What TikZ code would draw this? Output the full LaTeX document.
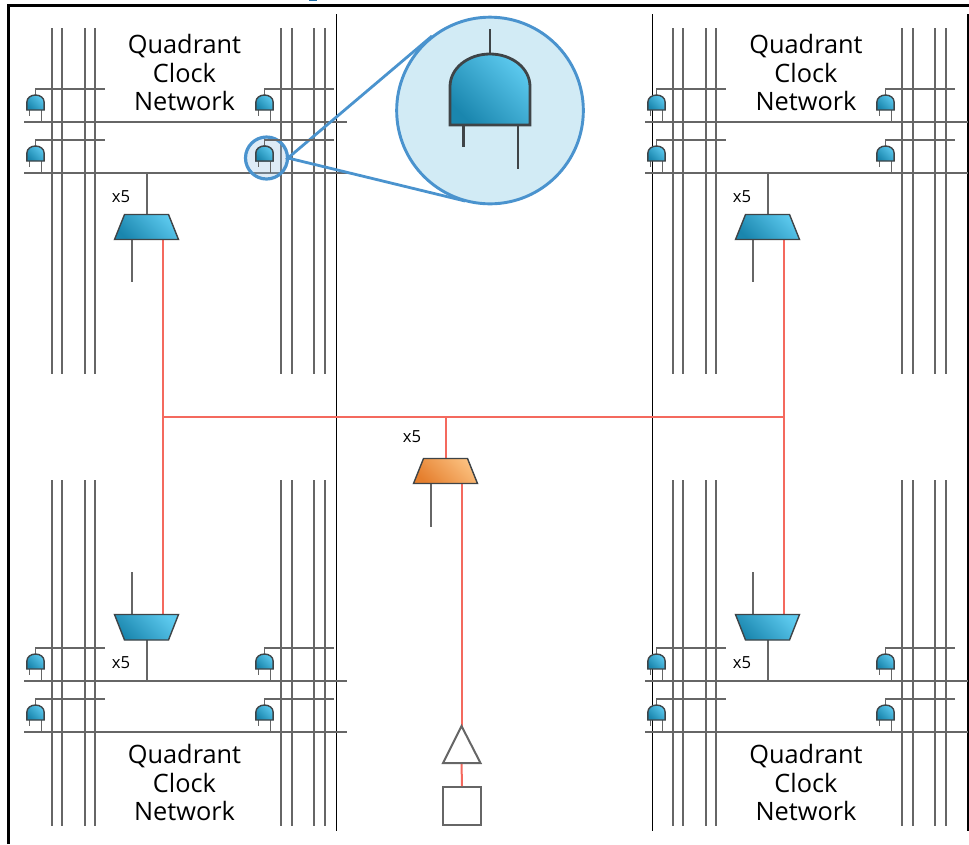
\documentclass[tikz,border=0pt]{standalone}
\usepackage{fontspec}
\setmainfont{Open Sans}
\definecolor{wire}{HTML}{666666}
\definecolor{redwire}{HTML}{F4695E}
\definecolor{edgegrey}{HTML}{3F4447}
\definecolor{tealA}{HTML}{1A86AE}
\definecolor{tealB}{HTML}{5CC9EE}
\definecolor{orangeA}{HTML}{E57F2E}
\definecolor{orangeB}{HTML}{FBC07F}
\definecolor{zoomfill}{HTML}{D2EBF5}
\definecolor{zoomline}{HTML}{4A93CE}
\definecolor{titleblue}{HTML}{1F6FA8}
\tikzset{
  wireline/.style={draw=wire,line width=1.5pt},
  gateleg/.style={draw=wire,line width=1.2pt},
  redline/.style={draw=redwire,line width=1.5pt},
  thinblack/.style={draw=black,line width=0.85pt},
  framing/.style={draw=black,line width=2.3pt},
  tealshade/.style={draw=edgegrey,line width=1.05pt,top color=tealB,bottom color=tealA,shading angle=-45},
  orangeshade/.style={draw=edgegrey,line width=1.05pt,top color=orangeB,bottom color=orangeA,shading angle=-45},
  qlabel/.style={font=\fontsize{19}{21.4}\selectfont,align=center,text=black,inner sep=0pt,anchor=center},
  xlabel/.style={font=\fontsize{12.5}{14}\selectfont,text=black,inner sep=0pt,anchor=center},
  blockbox/.style={draw=wire,line width=1.5pt,inner sep=0pt,minimum size=28.5pt,fill=white},
}
% #1 name, #2 centre x, #3 top y, #4 half width, #5 height, #6 style
\newcommand{\gatebody}[6]{%
  \path[#6] ({#2-#4},{#3+#5}) -- ({#2-#4},{#3+0.46*#5})
    .. controls ({#2-#4},{#3+0.2*#5}) and ({#2-0.55*#4},{#3}) .. ({#2},{#3})
    .. controls ({#2+0.55*#4},{#3}) and ({#2+#4},{#3+0.2*#5}) .. ({#2+#4},{#3+0.46*#5})
    -- ({#2+#4},{#3+#5}) -- cycle;
  \coordinate (#1-top) at (#2,#3);
}
% small gate with its wires: #1 centre x, #2 bus y
\newcommand{\smallgate}[2]{%
  \pgfmathsetmacro{\gt}{#2-27}%
  \coordinate (stemend) at ({#1+69},{#2-33});
  \coordinate (stemturn) at (#1,{#2-33});
  \coordinate (lega) at ({#1-6},{#2-12});
  \coordinate (legat) at ({#1-6},{#2-6});
  \coordinate (legb) at ({#1+6},{#2-12});
  \coordinate (legbt) at ({#1+6},{#2});
  \draw[gateleg] (stemend) -- (stemturn) -- ++(0,6);
  \draw[gateleg] (lega) -- (legat);
  \draw[gateleg] (legb) -- (legbt);
  \gatebody{smallgate}{#1}{\gt}{8.6}{15}{tealshade}
}
% #1 name, #2 centre x, #3 top y, #4 bottom y, #5 top half width, #6 bottom half width, #7 style
\newcommand{\muxbody}[7]{%
  \path[#7] ({#2-#5},#3) -- ({#2+#5},#3) -- ({#2+#6},#4) -- ({#2-#6},#4) -- cycle;
  \coordinate (#1-top) at (#2,#3);
  \coordinate (#1-bot) at (#2,#4);
}
\begin{document}
\begin{tikzpicture}[x=0.75pt,y=-0.75pt]
\useasboundingbox (0,0) rectangle (969,844);
% frame
\coordinate (fa) at (8.5,844);
\coordinate (fb) at (8.5,5.5);
\coordinate (fc) at (969,5.5);
\draw[framing] (fa) -- (fb) -- (fc);
\fill[titleblue] (309,0) rectangle (317,1.2);
% quadrant separators
\foreach \x/\n in {336.5/a,652.5/b,968/c}{
  \coordinate (sep\n t) at (\x,14);
  \coordinate (sep\n b) at (\x,831);
  \draw[thinblack] (sep\n t) -- (sep\n b);
}
% quadrant wiring
\foreach \dx in {0,621}{
  \foreach \dy in {0,559}{
    \pgfmathsetmacro{\yoff}{\dy==0 ? 0 : 452}
    \foreach \x in {51.5,62,84.5,95,280.5,291.5,313.5,324.5}{
      \coordinate (vt) at ({\x+\dx},{28+\yoff});
      \coordinate (vb) at ({\x+\dx},{374+\yoff});
      \draw[wireline] (vt) -- (vb);
    }
    \foreach \y in {122,173}{
      \coordinate (hl) at ({24+\dx},{\y+\dy});
      \coordinate (hr) at ({347+\dx},{\y+\dy});
      \draw[wireline] (hl) -- (hr);
      \foreach \x in {35.5,264.5}{
        \pgfmathsetmacro{\gx}{\x+\dx}
        \pgfmathsetmacro{\gy}{\y+\dy}
        \smallgate{\gx}{\gy}
      }
    }
  }
}
% red network
\coordinate (redL) at (162.5,417);
\coordinate (redC) at (445.5,417);
\coordinate (redR) at (783.5,417);
\draw[redline] (redL) -- (redC) -- (redR);
% muxes
\foreach \dx/\n in {0/l,621/r}{
  \pgfmathsetmacro{\mx}{146.5+\dx}
  \coordinate (busT\n) at (\mx,173);
  \coordinate (selT\n a) at ({\mx-15},239.5);
  \coordinate (selT\n b) at ({\mx-15},282);
  \coordinate (redT\n) at ({\mx+16},239.5);
  \coordinate (redM\n) at ({\mx+16},417);
  \coordinate (muxtop\n) at (\mx,214.5);
  \draw[wireline] (busT\n) -- (muxtop\n);
  \draw[wireline] (selT\n a) -- (selT\n b);
  \draw[redline] (redT\n) -- (redM\n);
  \muxbody{muxt\n}{\mx}{214.5}{239.5}{22}{32}{tealshade}
  \coordinate (busB\n) at (\mx,681);
  \coordinate (muxbot\n) at (\mx,640);
  \coordinate (selB\n a) at ({\mx-15},614.5);
  \coordinate (selB\n b) at ({\mx-15},572);
  \coordinate (redB\n) at ({\mx+16},614.5);
  \draw[wireline] (busB\n) -- (muxbot\n);
  \draw[wireline] (selB\n a) -- (selB\n b);
  \draw[redline] (redB\n) -- (redM\n);
  \muxbody{muxb\n}{\mx}{614.5}{640}{32}{22}{tealshade}
  \node[xlabel] (xt\n) at ({121+\dx},197) {x5};
  \node[xlabel] (xb\n) at ({121+\dx},663) {x5};
}
% centre mux
\coordinate (selCa) at (431,483.5);
\coordinate (selCb) at (431,526.5);
\coordinate (redCa) at (461.5,483.5);
\coordinate (bufTop) at (461.5,726);
\coordinate (bufBase) at (461.5,763);
\coordinate (bufL) at (443,763);
\coordinate (bufR) at (480.5,763);
\coordinate (muxcIn) at (445.5,458.5);
\draw[wireline] (selCa) -- (selCb);
\draw[redline] (redCa) -- (bufTop);
\draw[redline] (redC) -- (muxcIn);
\muxbody{muxc}{445.5}{458.5}{483.5}{22}{32}{orangeshade}
\node[xlabel] (xc) at (412,437) {x5};
% buffer and source
\node[blockbox] (src) at (462,806) {};
\draw[redline] (bufBase) -- (src.north);
\draw[wireline,line join=miter] (bufTop) -- (bufR) -- (bufL) -- cycle;
% labels
\foreach \x/\n in {184.5/l,806/r}{
  \node[qlabel] (qt\n) at (\x,72.5) {Quadrant\\Clock\\Network};
  \node[qlabel] (qb\n) at (\x,782.5) {Quadrant\\Clock\\Network};
}
% magnifier
\coordinate (mA) at (288,158);
\coordinate (mB) at (432,36);
\coordinate (mC) at (465,201);
\draw[zoomline,line width=2.1pt] (mB) -- (mA) -- (mC);
\node[circle,draw=zoomline,line width=2.2pt,fill=zoomfill,minimum size=140pt,inner sep=0pt] (bigring) at (490,110.5) {};
\node[circle,draw=zoomline,line width=2.4pt,fill=zoomline!60!white,fill opacity=0.3,minimum size=31.5pt,inner sep=0pt] (smallring) at (266.5,158) {};
\smallgate{264.5}{173}
\coordinate (bs) at (490,29);
\coordinate (bla) at (463.5,125);
\coordinate (blb) at (463.5,147);
\coordinate (bra) at (518,125);
\coordinate (brb) at (518,169);
\coordinate (bt) at (490,54);
\draw[edgegrey,line width=2.1pt] (bs) -- (bt);
\draw[edgegrey,line width=2.1pt] (bla) -- (blb);
\draw[edgegrey,line width=2.1pt] (bra) -- (brb);
\gatebody{biggate}{490}{54}{40}{71}{tealshade,line width=2.1pt}
\end{tikzpicture}
\end{document}
